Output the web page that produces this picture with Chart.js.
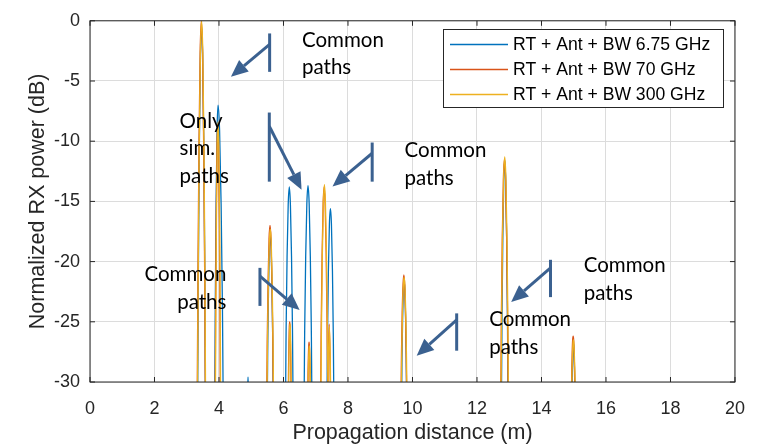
<!DOCTYPE html>
<html>
<head>
<meta charset="utf-8">
<script src="https://cdn.jsdelivr.net/npm/chart.js@4.4.1/dist/chart.umd.min.js"></script>
<style>
  html, body { margin: 0; padding: 0; background: #ffffff; }
  canvas { display: block; }
</style>
</head>
<body>
<canvas id="c" width="761" height="446"></canvas>
<script>
// Axis text and tick values
const xTitle = 'Propagation distance (m)';
const yTitle = 'Normalized RX power (dB)';
const xTickValues = [0, 2, 4, 6, 8, 10, 12, 14, 16, 18, 20];
const yTickValues = [-30, -25, -20, -15, -10, -5, 0];

const seriesLabels = ['RT + Ant + BW 6.75 GHz', 'RT + Ant + BW 70 GHz', 'RT + Ant + BW 300 GHz'];

// RT + Ant + BW 6.75 GHz : distance (m) / normalized power (dB)
const bw675Dist = [
  3.332, 3.358, 3.388, 3.424, 3.46, 3.496, 3.532, 3.562, 3.588,
  3.863, 3.885, 3.91, 3.94, 3.97, 4.018, 4.066, 4.106, 4.141,
  4.885, 4.90, 4.915,
  5.494, 5.5135, 5.536, 5.563, 5.59, 5.617, 5.644, 5.6665, 5.686,
  6.057, 6.082, 6.111, 6.1455, 6.18, 6.2145, 6.249, 6.278, 6.303,
  6.632, 6.658, 6.688, 6.724, 6.76, 6.796, 6.832, 6.862, 6.888,
  7.343, 7.366, 7.392, 7.4235, 7.455, 7.4865, 7.518, 7.544, 7.567,
  9.66, 9.676, 9.695, 9.7175, 9.74, 9.7625, 9.785, 9.804, 9.82,
  12.753, 12.775, 12.8, 12.83, 12.86, 12.89, 12.92, 12.945, 12.967,
  14.947, 14.956, 14.966, 14.978, 14.99, 15.002, 15.014, 15.024, 15.033
];
const bw675Power = [
  -34.3, -21.8, -11.1, -3.2, -0.5, -3.2, -11.1, -21.8, -34.3,
  -33.3, -23.6, -15.3, -9.1, -7.0, -9.1, -15.3, -23.6, -33.3,
  -31, -29.6, -31,
  -31.8, -26.6, -22.2, -18.9, -17.8, -18.9, -22.2, -26.6, -31.8,
  -32.3, -25.5, -19.6, -15.3, -13.8, -15.3, -19.6, -25.5, -32.3,
  -32.3, -25.5, -19.6, -15.2, -13.7, -15.2, -19.6, -25.5, -32.3,
  -32.1, -26.0, -20.8, -16.9, -15.6, -16.9, -20.8, -26.0, -32.1,
  -31.2, -27.7, -24.6, -22.4, -21.6, -22.4, -24.6, -27.7, -31.2,
  -32.6, -24.9, -18.2, -13.3, -11.6, -13.3, -18.2, -24.9, -32.6,
  -30.5, -29.1, -28.0, -27.1, -26.8, -27.1, -28.0, -29.1, -30.5
];

// RT + Ant + BW 70 GHz
const bw70Dist = [
  3.318, 3.346, 3.377, 3.415, 3.452, 3.49, 3.527, 3.558, 3.586,
  3.876, 3.894, 3.914, 3.938, 3.962, 3.986, 4.01, 4.03, 4.048,
  5.475, 5.497, 5.522, 5.552, 5.582, 5.612, 5.642, 5.667, 5.689,
  6.149, 6.158, 6.168, 6.18, 6.192, 6.204, 6.216, 6.226, 6.235,
  6.755, 6.762, 6.771, 6.782, 6.792, 6.803, 6.813, 6.822, 6.829,
  7.144, 7.169, 7.196, 7.229, 7.262, 7.292, 7.322, 7.352, 7.377, 7.392, 7.417, 7.442, 7.462,
  9.641, 9.66, 9.681, 9.707, 9.732, 9.758, 9.783, 9.804, 9.823,
  12.729, 12.754, 12.783, 12.818, 12.852, 12.887, 12.921, 12.95, 12.975,
  14.929, 14.94, 14.952, 14.967, 14.982, 14.997, 15.012, 15.025, 15.036
];
const bw70Power = [
  -34.3, -21.7, -10.8, -2.7, 0, -2.7, -10.8, -21.7, -34.3,
  -33.3, -24.2, -16.4, -10.5, -8.6, -10.5, -16.4, -24.2, -33.3,
  -31.8, -26.3, -21.6, -18.1, -17.0, -18.1, -21.6, -26.3, -31.8,
  -30.7, -28.6, -26.8, -25.4, -25.0, -25.4, -26.8, -28.6, -30.7,
  -30.4, -29.0, -27.9, -27.0, -26.7, -27.0, -27.9, -29.0, -30.4,
  -32.4, -25.5, -19.6, -15.2, -13.8, -15.3, -19.2, -25.6, -31, -28, -25.2, -28, -32,
  -31.2, -27.4, -24.2, -21.9, -21.1, -21.9, -24.2, -27.4, -31.2,
  -32.7, -25.0, -18.2, -13.2, -11.5, -13.2, -18.2, -25.0, -32.7,
  -30.5, -28.8, -27.5, -26.5, -26.2, -26.5, -27.5, -28.8, -30.5
];

// RT + Ant + BW 300 GHz
const bw300Dist = [
  3.326, 3.354, 3.385, 3.423, 3.46, 3.498, 3.535, 3.566, 3.594,
  3.884, 3.902, 3.922, 3.946, 3.97, 3.994, 4.018, 4.038, 4.056,
  5.483, 5.505, 5.53, 5.56, 5.59, 5.62, 5.65, 5.675, 5.697,
  6.157, 6.166, 6.176, 6.188, 6.20, 6.212, 6.224, 6.234, 6.243,
  6.763, 6.77, 6.779, 6.79, 6.80, 6.81, 6.821, 6.83, 6.837,
  7.152, 7.177, 7.204, 7.237, 7.27, 7.30, 7.33, 7.36, 7.385, 7.40, 7.425, 7.45, 7.47,
  9.649, 9.668, 9.689, 9.715, 9.74, 9.766, 9.791, 9.812, 9.831,
  12.737, 12.762, 12.791, 12.826, 12.86, 12.895, 12.929, 12.958, 12.983,
  14.937, 14.948, 14.96, 14.975, 14.99, 15.005, 15.02, 15.033, 15.044
];
const bw300Power = [
  -34.3, -21.7, -10.8, -2.7, 0, -2.7, -10.8, -21.7, -34.3,
  -33.1, -24.0, -16.2, -10.3, -8.4, -10.3, -16.2, -24.0, -33.1,
  -31.8, -26.5, -21.9, -18.4, -17.3, -18.4, -21.9, -26.5, -31.8,
  -30.7, -28.7, -26.9, -25.6, -25.2, -25.6, -26.9, -28.7, -30.7,
  -30.4, -29.2, -28.1, -27.3, -27.0, -27.3, -28.1, -29.2, -30.4,
  -32.4, -25.5, -19.5, -15.1, -13.6, -15.1, -19.0, -25.5, -31, -28, -25.4, -28, -32,
  -31.3, -27.6, -24.4, -22.1, -21.3, -22.1, -24.4, -27.6, -31.3,
  -32.7, -24.8, -18.0, -13.0, -11.3, -13.0, -18.0, -24.8, -32.7,
  -30.5, -29.0, -27.8, -26.8, -26.5, -26.8, -27.8, -29.0, -30.5
];

// Callouts: vertical bar + arrow (distance, dB)
const callouts = [
  { bar: [5.57, -1.05, -4.24],  from: [5.57, -1.95],  to: [4.37, -4.65] },
  { bar: [5.56, -7.62, -13.36], from: [5.56, -8.76],  to: [6.56, -14.03] },
  { bar: [8.75, -10.11, -13.36], from: [8.75, -11.0], to: [7.52, -13.76] },
  { bar: [5.27, -20.52, -23.68], from: [5.27, -21.2], to: [6.50, -24.03] },
  { bar: [11.37, -24.3, -27.4], from: [11.37, -24.84], to: [10.13, -27.82] },
  { bar: [14.28, -19.85, -22.95], from: [14.28, -20.52], to: [13.06, -23.36] }
];
const noteTexts = [
  { lines: ['Common', 'paths'], at: [6.574, -1.62], align: 'left' },
  { lines: ['Only', 'sim.', 'paths'], at: [2.778, -8.35], align: 'left' },
  { lines: ['Common', 'paths'], at: [9.753, -10.78], align: 'left' },
  { lines: ['Common', 'paths'], at: [4.228, -21.08], align: 'right' },
  { lines: ['Common', 'paths'], at: [15.31, -20.35], align: 'left' },
  { lines: ['Common', 'paths'], at: [12.377, -24.81], align: 'left' }
];

const colors = ['#0072BD', '#D95319', '#EDB120'];
const ink = '#262626';
const calloutColor = '#3b6190';

function toPoints(xs, ys) {
  return xs.map((v, i) => ({ x: v, y: ys[i] }));
}

const datasets = [
  { label: seriesLabels[0], data: toPoints(bw675Dist, bw675Power), borderColor: colors[0], order: 3 },
  { label: seriesLabels[1], data: toPoints(bw70Dist, bw70Power), borderColor: colors[1], order: 2 },
  { label: seriesLabels[2], data: toPoints(bw300Dist, bw300Power), borderColor: colors[2], order: 1 }
].map(d => Object.assign(d, {
  borderWidth: 1.3,
  pointRadius: 0,
  fill: false,
  cubicInterpolationMode: 'monotone'
}));

function drawArrow(ctx, x1, y1, x2, y2) {
  const L = 17, W = 7.5;
  const ang = Math.atan2(y2 - y1, x2 - x1);
  const bx = x2 - L * Math.cos(ang), by = y2 - L * Math.sin(ang);
  ctx.beginPath();
  ctx.moveTo(x1, y1);
  ctx.lineTo(bx, by);
  ctx.stroke();
  ctx.beginPath();
  ctx.moveTo(x2, y2);
  ctx.lineTo(bx + W * Math.sin(ang), by - W * Math.cos(ang));
  ctx.lineTo(bx - W * Math.sin(ang), by + W * Math.cos(ang));
  ctx.closePath();
  ctx.fill();
}

const overlay = {
  id: 'overlay',
  afterDatasetsDraw(chart) {
    const { ctx, chartArea: a, scales: { x, y } } = chart;
    ctx.save();

    // axes box and inward tick marks
    ctx.strokeStyle = ink;
    ctx.lineWidth = 1;
    ctx.strokeRect(a.left, a.top, a.right - a.left, a.bottom - a.top);
    ctx.beginPath();
    xTickValues.forEach(v => {
      const px = x.getPixelForValue(v);
      ctx.moveTo(px, a.bottom); ctx.lineTo(px, a.bottom - 5);
      ctx.moveTo(px, a.top); ctx.lineTo(px, a.top + 5);
    });
    yTickValues.forEach(v => {
      const py = y.getPixelForValue(v);
      ctx.moveTo(a.left, py); ctx.lineTo(a.left + 5, py);
      ctx.moveTo(a.right, py); ctx.lineTo(a.right - 5, py);
    });
    ctx.stroke();

    // callout bars and arrows
    ctx.strokeStyle = calloutColor;
    ctx.fillStyle = calloutColor;
    ctx.lineWidth = 3;
    callouts.forEach(c => {
      const bx = x.getPixelForValue(c.bar[0]);
      ctx.beginPath();
      ctx.moveTo(bx, y.getPixelForValue(c.bar[1]));
      ctx.lineTo(bx, y.getPixelForValue(c.bar[2]));
      ctx.stroke();
      drawArrow(ctx,
        x.getPixelForValue(c.from[0]), y.getPixelForValue(c.from[1]),
        x.getPixelForValue(c.to[0]), y.getPixelForValue(c.to[1]));
    });

    // callout texts
    ctx.fillStyle = '#000000';
    ctx.font = '20.5px Lato';
    ctx.textBaseline = 'middle';
    noteTexts.forEach(t => {
      ctx.textAlign = t.align;
      const tx = x.getPixelForValue(t.at[0]);
      const ty = y.getPixelForValue(t.at[1]);
      t.lines.forEach((s, i) => ctx.fillText(s, tx, ty + i * 27.5));
    });

    // legend box
    const lx = 443, ly = 29, lw = 280, lh = 78;
    ctx.fillStyle = '#ffffff';
    ctx.fillRect(lx, ly, lw, lh);
    ctx.strokeStyle = ink;
    ctx.lineWidth = 1;
    ctx.strokeRect(lx + 0.5, ly + 0.5, lw, lh);
    ctx.font = '17.6px "Liberation Sans"';
    ctx.textAlign = 'left';
    chart.data.datasets.forEach((d, i) => {
      const rowY = 44.5 + i * 25;
      ctx.strokeStyle = d.borderColor;
      ctx.lineWidth = 1.3;
      ctx.beginPath();
      ctx.moveTo(450, rowY);
      ctx.lineTo(508, rowY);
      ctx.stroke();
      ctx.fillStyle = '#000000';
      ctx.fillText(d.label, 513, rowY + 1);
    });

    ctx.restore();
  }
};

const tickFont = { family: 'Liberation Sans', size: 18 };
const titleFont = { family: 'Liberation Sans', size: 21.5 };

new Chart(document.getElementById('c'), {
  type: 'line',
  data: { datasets },
  options: {
    responsive: false,
    animation: false,
    devicePixelRatio: 1,
    layout: { padding: { left: 0, right: 23, top: 12, bottom: 0 } },
    plugins: { legend: { display: false }, tooltip: { enabled: false } },
    scales: {
      x: {
        type: 'linear',
        min: 0, max: 20,
        afterBuildTicks(scale) { scale.ticks = xTickValues.map(v => ({ value: v })); },
        ticks: { color: ink, font: tickFont, padding: 16, maxRotation: 0, autoSkip: false },
        grid: { color: '#dcdcdc', lineWidth: 1, drawTicks: false },
        border: { display: false },
        title: { display: true, text: xTitle, color: ink, font: titleFont, padding: { top: 0, bottom: 0 } },
        afterFit(scale) { scale.height = 64; }
      },
      y: {
        type: 'linear',
        min: -30, max: 0,
        afterBuildTicks(scale) { scale.ticks = yTickValues.map(v => ({ value: v })); },
        ticks: { color: ink, font: tickFont, padding: 10, callback: v => String(v) },
        grid: { color: '#dcdcdc', lineWidth: 1, drawTicks: false },
        border: { display: false },
        title: { display: true, text: yTitle, color: ink, font: titleFont, padding: { top: 25, bottom: 0 } },
        afterFit(scale) { scale.width = 90; }
      }
    }
  },
  plugins: [overlay]
});
</script>
</body>
</html>
